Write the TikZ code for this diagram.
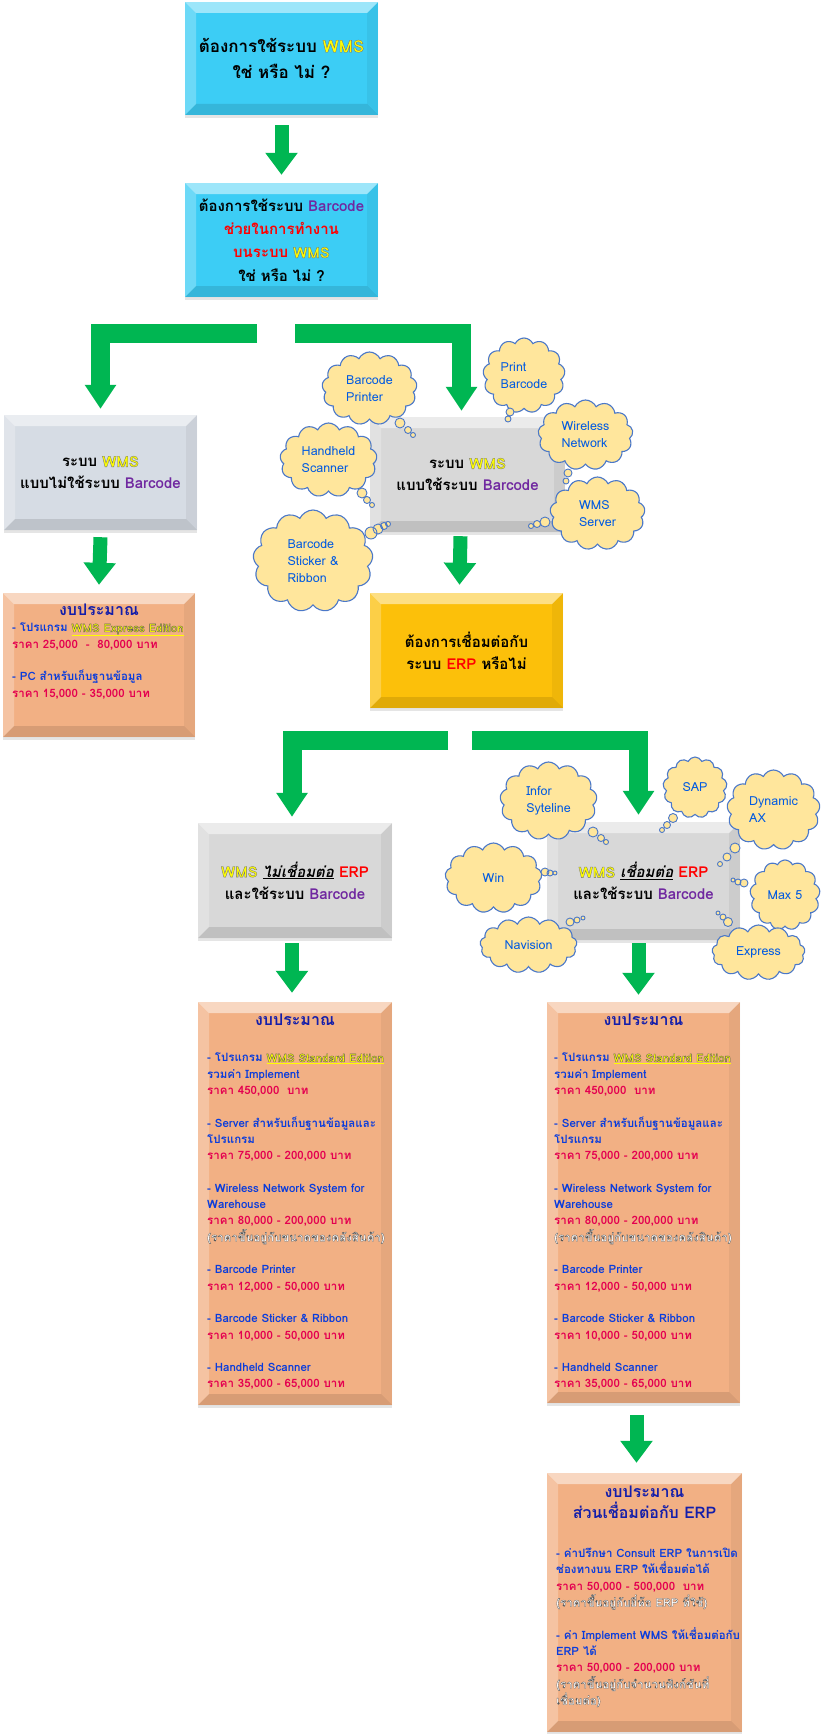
\documentclass[tikz,border=0pt]{standalone}
\usepackage{fontspec}
\setmainfont[Script=Thai]{Loma}
\usetikzlibrary{arrows.meta,shapes.symbols,shadows}
\definecolor{cyanbox}{RGB}{60,205,245}
\definecolor{greyA}{RGB}{214,220,228}
\definecolor{greyB}{RGB}{216,216,216}
\definecolor{goldbox}{RGB}{252,192,10}
\definecolor{orangebox}{RGB}{242,176,132}
\definecolor{cloudfill}{RGB}{255,230,156}
\definecolor{cloudline}{RGB}{75,120,200}
\definecolor{arrowgreen}{RGB}{0,182,82}
\definecolor{wmsy}{RGB}{255,255,0}
\definecolor{bcpurple}{RGB}{112,40,160}
\definecolor{erpred}{RGB}{255,0,0}
\definecolor{itemblue}{RGB}{10,60,220}
\definecolor{titleblue}{RGB}{20,30,170}
\definecolor{price}{RGB}{228,0,80}
\definecolor{cloudtext}{RGB}{0,90,225}
% outlined text: fill in colour #1, thin stroke of grey #2 and width #3 (PDF text render mode 2)
\newcommand\olT[4]{\textcolor{#1}{\special{pdf:literal direct #2 #2 #2 RG #3 w 2 Tr}#4\special{pdf:literal direct 0 Tr}}}
\newcommand\wmsT{\olT{wmsy}{0.45}{0.35}{WMS}}
\newcommand\bcT{\textcolor{bcpurple}{Barcode}}
\newcommand\erpT{\textcolor{erpred}{ERP}}
\newcommand\hlT[1]{\textcolor{wmsy}{\underline{\olT{wmsy}{0.35}{0.35}{#1}}}}
\newcommand\prT[1]{\textcolor{price}{#1}}
\newcommand\noteT[1]{\olT{white}{0.35}{0.3}{#1}}
\newcommand\stditems{- โปรแกรม \hlT{WMS Standard Edition}\\
รวมค่า Implement\\
\prT{ราคา 450,000 \ บาท}\\[16.3pt]
- Server สำหรับเก็บฐานข้อมูลและ\\
โปรแกรม\\
\prT{ราคา 75,000 - 200,000 บาท}\\[16.3pt]
- Wireless Network System for\\
Warehouse\\
\prT{ราคา 80,000 - 200,000 บาท}\\
\noteT{(ราคาขึ้นอยู่กับขนาดของคลังสินค้า)}\\[16.3pt]
- Barcode Printer\\
\prT{ราคา 12,000 - 50,000 บาท}\\[16.3pt]
- Barcode Sticker \& Ribbon\\
\prT{ราคา 10,000 - 50,000 บาท}\\[16.3pt]
- Handheld Scanner\\
\prT{ราคา 35,000 - 65,000 บาท}}
\tikzset{
 bevel/.style={path picture={%
  \path (path picture bounding box.north west) coordinate (pNW)
        (path picture bounding box.north east) coordinate (pNE)
        (path picture bounding box.south west) coordinate (pSW)
        (path picture bounding box.south east) coordinate (pSE);
  \fill[white,opacity=.5] (pNW) -- (pNE) -- ([shift={(-#1,-#1)}]pNE) -- ([shift={(#1,-#1)}]pNW) -- cycle;
  \fill[white,opacity=.25] (pNW) -- ([shift={(#1,-#1)}]pNW) -- ([shift={(#1,#1)}]pSW) -- (pSW) -- cycle;
  \fill[black,opacity=.05] (pNE) -- ([shift={(-#1,-#1)}]pNE) -- ([shift={(-#1,#1)}]pSE) -- (pSE) -- cycle;
  \fill[black,opacity=.11] (pSW) -- ([shift={(#1,#1)}]pSW) -- ([shift={(-#1,#1)}]pSE) -- (pSE) -- cycle;
 }},
 bevel/.default=11pt,
 flowbox/.style={rectangle, fill=#1, bevel, drop shadow={opacity=.2,shadow xshift=0pt,shadow yshift=-3pt},
   minimum width=193pt, minimum height=115pt, inner sep=0pt, align=center,
   font=\bfseries\fontsize{15}{22}\selectfont},
 garrow/.style={draw=arrowgreen, line width=14pt, -{Triangle[width=31pt,length=22pt]}},
 larrow/.style={draw=arrowgreen, line width=19pt, line join=miter, -{Triangle[width=30pt,length=24pt]}},
 cloudnode/.style={cloud, cloud puffs=13, cloud puff arc=130, cloud ignores aspect, fill=cloudfill,
   draw=cloudline, line width=1.1pt, text=cloudtext, font=\fontsize{12.5}{17}\selectfont, align=left, inner sep=0pt},
 bubble/.style={fill=cloudfill, draw=cloudline, line width=0.9pt},
 budtitle/.style={inner sep=0pt, align=center, text=titleblue, font=\bfseries\fontsize{16}{21}\selectfont},
 budtext/.style={inner sep=0pt, align=left, anchor=north west, text=itemblue, font=\bfseries\fontsize{11.5}{16.3}\selectfont},
}
\begin{document}
\begin{tikzpicture}[x=1pt,y=-1pt]
\useasboundingbox (0,0) rectangle (823,1734);
\fill[white] (0,0) rectangle (823,1734);
% boxes
\node[flowbox=cyanbox, minimum height=113pt, font=\bfseries\fontsize{17}{26.7}\selectfont] (q1) at (281.5,58.5) {ต้องการใช้ระบบ \wmsT\\ใช่ หรือ ไม่ ?};
\node[flowbox=cyanbox, minimum height=114pt, font=\bfseries\fontsize{15}{23.3}\selectfont] (q2) at (281.5,240) {ต้องการใช้ระบบ \bcT\\\textcolor{erpred}{ช่วยในการทำงาน}\\\textcolor{erpred}{บนระบบ} \wmsT\\ใช่ หรือ ไม่ ?};
\node[flowbox=greyA] (nobc) at (100.5,472.5) {ระบบ \wmsT\\แบบไม่ใช้ระบบ \bcT};
\node[flowbox=orangebox, minimum width=192pt, minimum height=144pt] (bud1) at (99,665) {};
\node[flowbox=greyB, minimum width=195pt] (withbc) at (467.5,474.5) {ระบบ \wmsT\\แบบใช้ระบบ \bcT};
\node[flowbox=goldbox] (erpq) at (466.5,650.5) {ต้องการเชื่อมต่อกับ\\ระบบ \erpT{} หรือไม่};
\node[flowbox=greyB, minimum width=194pt] (noerp) at (295,880.5) {\wmsT{} \underline{\textit{ไม่เชื่อมต่อ}} \erpT\\และใช้ระบบ \bcT};
\node[flowbox=greyB, minimum height=118pt] (erp) at (643.5,881) {\wmsT{} \underline{\textit{เชื่อมต่อ}} \erpT\\และใช้ระบบ \bcT};
\node[flowbox=orangebox, minimum width=194pt, minimum height=403pt] (bud2) at (295,1203.5) {};
\node[flowbox=orangebox, minimum height=401pt] (bud3) at (643.5,1202.5) {};
\node[flowbox=orangebox, minimum width=195pt, minimum height=259pt] (bud4) at (644.5,1602.5) {};
% budget texts
\node[budtitle] (bud1t) at (99,610) {งบประมาณ};
\node[budtext] (bud1i) at (12,623) {- โปรแกรม \hlT{WMS Express Edition}\\
\prT{ราคา 25,000 \ - \ 80,000 บาท}\\[16.3pt]
- PC สำหรับเก็บฐานข้อมูล\\
\prT{ราคา 15,000 - 35,000 บาท}};
\node[budtitle] (bud2t) at (295,1020) {งบประมาณ};
\node[budtext] (bud2i) at (207,1053) {\stditems};
\node[budtitle] (bud3t) at (643.5,1020) {งบประมาณ};
\node[budtext] (bud3i) at (554,1053) {\stditems};
\node[budtitle] (bud4t) at (644.5,1502.5) {งบประมาณ\\ส่วนเชื่อมต่อกับ ERP};
\node[budtext] (bud4i) at (556,1548) {- ค่าปรึกษา Consult ERP ในการเปิด\\
ช่องทางบน ERP ให้เชื่อมต่อได้\\
\prT{ราคา 50,000 - 500,000 \ บาท}\\
\noteT{(ราคาขึ้นอยู่กับยี่ห้อ ERP ที่ใช้)}\\[16.5pt]
- ค่า Implement WMS ให้เชื่อมต่อกับ\\
ERP ได้\\
\prT{ราคา 50,000 - 200,000 บาท}\\
\noteT{(ราคาขึ้นอยู่กับจำนวนฟังก์ชันที่}\\
\noteT{เชื่อมต่อ)}};
% connectors
\draw[garrow] ([yshift=-10pt]q1.south) -- ([yshift=8pt]q2.north);
\coordinate (l1) at (257,333);
\draw[larrow] (l1) -| ([yshift=6pt]nobc.north);
\coordinate (l2) at (295,333);
\draw[larrow] (l2) -| ([xshift=-6pt,yshift=6pt]withbc.north);
\draw[garrow] ([yshift=-7pt]nobc.south) -- ([yshift=8pt]bud1.north);
\draw[garrow] ([xshift=-7pt,yshift=-4pt]withbc.south) -- ([xshift=-7pt,yshift=8pt]erpq.north);
\coordinate (l3) at (448,740);
\draw[larrow] (l3) -| ([xshift=-3pt,yshift=6pt]noerp.north);
\coordinate (l4) at (472,740);
\draw[larrow] (l4) -| ([xshift=-5pt,yshift=7pt]erp.north);
\draw[garrow] ([xshift=-3pt,yshift=-5pt]noerp.south) -- ([xshift=-3pt,yshift=9pt]bud2.north);
\draw[garrow] ([xshift=-5pt,yshift=-3pt]erp.south) -- ([xshift=-5pt,yshift=7pt]bud3.north);
\draw[garrow] ([xshift=-7pt,yshift=-12pt]bud3.south) -- ([xshift=-8pt,yshift=10pt]bud4.north);
% clouds (upper group)
\node[cloudnode, minimum width=95pt, minimum height=73pt] (cBP) at (369.5,388.5) {Barcode\\Printer};
\draw[bubble] (400,423) circle[radius=5pt] (408,430) circle[radius=3.5pt] (413,435) circle[radius=2.5pt];
\node[cloudnode, minimum width=82pt, minimum height=75pt] (cPB) at (524,375.5) {Print\\Barcode};
\draw[bubble] (510,412) circle[radius=4pt] (508,419) circle[radius=3pt];
\node[cloudnode, minimum width=95pt, minimum height=70pt] (cWN) at (585.5,435) {Wireless\\Network};
\draw[bubble] (568,473) circle[radius=4pt] (566,481) circle[radius=3pt];
\node[cloudnode, minimum width=95pt, minimum height=73pt] (cWS) at (597.5,513.5) {WMS\\Server};
\draw[bubble] (545,522) circle[radius=5pt] (537,524) circle[radius=3.5pt] (531,526) circle[radius=2.5pt];
\node[cloudnode, minimum width=97pt, minimum height=74pt] (cHS) at (328.5,460) {Handheld\\Scanner};
\draw[bubble] (362,493) circle[radius=5pt] (367,500) circle[radius=3.5pt] (372,505) circle[radius=2.5pt];
\node[cloudnode, minimum width=120pt, minimum height=102pt] (cBS) at (313,561) {Barcode\\Sticker \&\\Ribbon};
\draw[bubble] (371,533) circle[radius=6pt] (378,529) circle[radius=5pt] (384,526) circle[radius=3.5pt] (388,524) circle[radius=2.5pt];
% clouds (ERP group)
\node[cloudnode, minimum width=97pt, minimum height=78pt] (cIS) at (548.5,801) {Infor\\Syteline};
\draw[bubble] (593,832) circle[radius=5pt] (601,838) circle[radius=3.5pt] (606,842) circle[radius=2.5pt];
\node[cloudnode, minimum width=64pt, minimum height=61pt] (cSAP) at (695,787.5) {SAP};
\draw[bubble] (673,818) circle[radius=4.5pt] (667,825) circle[radius=3.5pt] (662,830) circle[radius=2.5pt];
\node[cloudnode, minimum width=93pt, minimum height=80pt] (cDA) at (773.5,810) {Dynamic\\AX};
\draw[bubble] (735,848) circle[radius=5pt] (727,857) circle[radius=4pt] (720,864) circle[radius=2.5pt];
\node[cloudnode, minimum width=97pt, minimum height=70pt] (cWin) at (493.5,878) {Win};
\draw[bubble] (545,872) circle[radius=4pt] (550,873) circle[radius=3pt] (555,873) circle[radius=2pt];
\node[cloudnode, minimum width=70pt, minimum height=70pt] (cMax) at (785,895) {Max 5};
\draw[bubble] (744,883) circle[radius=4pt] (738,882) circle[radius=3pt] (733,880) circle[radius=2pt];
\node[cloudnode, minimum width=97pt, minimum height=56pt] (cNav) at (528.5,945) {Navision};
\draw[bubble] (570,922) circle[radius=4pt] (577,920) circle[radius=3pt] (583,918) circle[radius=2pt];
\node[cloudnode, minimum width=93pt, minimum height=55pt] (cExp) at (758.5,952.5) {Express};
\draw[bubble] (728,922) circle[radius=4.5pt] (723,917) circle[radius=3pt] (718,913) circle[radius=2pt];
\end{tikzpicture}
\end{document}
